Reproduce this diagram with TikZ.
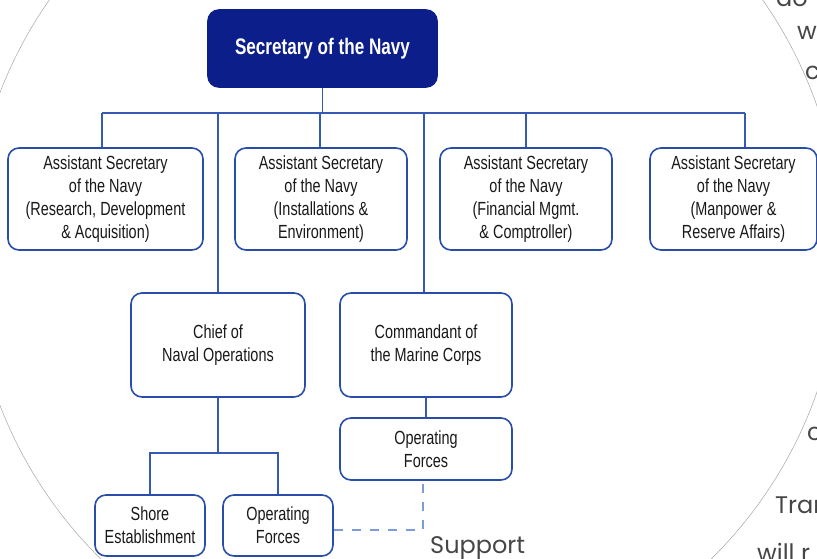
\documentclass[tikz,border=0pt]{standalone}
\usepackage{fontspec}
\setmainfont{Liberation Sans}
\newfontfamily\chartfont{Liberation Sans}[FakeStretch=0.76]
\newfontfamily\pagefont{Poppins}

\definecolor{navyfill}{RGB}{12,30,138}
\definecolor{boxline}{RGB}{40,78,170}
\definecolor{linkline}{RGB}{52,90,180}
\definecolor{supportline}{RGB}{125,155,215}
\definecolor{pagetext}{RGB}{70,70,70}
\definecolor{pagerule}{RGB}{165,165,165}

\begin{document}
\begin{tikzpicture}[
	x=1pt, y=-1pt,
	office/.style = {draw=boxline, line width=1.6pt, rounded corners=11pt, fill=white,
		inner sep=0pt, align=center, text=black!90,
		font=\chartfont\fontsize{19}{23}\selectfont},
	head/.style = {office, fill=navyfill, draw=navyfill, text=white,
		font=\chartfont\bfseries\fontsize{22.5}{26}\selectfont},
	edge/.style = {draw=linkline, line width=1.6pt},
	support/.style = {draw=supportline, line width=1.6pt, dash pattern=on 9pt off 9pt},
	page text/.style = {anchor=base west, inner sep=0pt, text=pagetext,
		font=\pagefont\fontsize{24}{24}\selectfont},
]

	\path [use as bounding box, clip] (0,0) rectangle (817,559);

	%% The page behind the chart: the ring and the running text
	\draw [pagerule, line width=0.5pt] (406,249) circle [radius=435pt];
	\node [page text] (frag-1) at (776,7) {do};
	\node [page text] (frag-2) at (797,40) {w};
	\node [page text] (frag-3) at (805,80) {c};
	\node [page text] (frag-4) at (807,440) {c};
	\node [page text] (frag-5) at (775,513) {Tran};
	\node [page text] (frag-6) at (757,561) {will r};

	%% The top of the chart
	\node [head, minimum width=229pt, minimum height=77pt] at (322.5,48.5) (secnav) {Secretary of the Navy};

	%% The assistant secretaries, left to right
	%% \cx = centre, \bw = box width, \tapx = where the bus drops down
	\foreach [count=\n] \cx/\bw/\tapx/\txt in {%
		105.5/195/102/{Assistant Secretary\\of the Navy\\(Research, Development\\\& Acquisition)},
		321/172/320/{Assistant Secretary\\of the Navy\\(Installations \&\\Environment)},
		526/172/526/{Assistant Secretary\\of the Navy\\(Financial Mgmt.\\\& Comptroller)},
		733.5/167/745/{Assistant Secretary\\of the Navy\\(Manpower \&\\Reserve Affairs)}%
	}{%
		\node [office, minimum width=\bw pt, minimum height=102pt] at (\cx,199) (asn-\n) {\txt};
		\coordinate (tap-\n) at (\tapx,113);
		\draw [edge] (tap-\n) -- (tap-\n |- asn-\n.north);
	}

	%% The bus under the secretary
	\draw [edge] (tap-1) -- (tap-4);
	\draw [edge] (secnav.south) -- (secnav.south |- tap-1);

	%% The two service chiefs hang off the same bus
	\node [office, minimum width=174pt, minimum height=104pt] at (218,345) (cno) {Chief of\\Naval Operations};
	\node [office, minimum width=172pt, minimum height=104pt] at (426,345) (cmc) {Commandant of\\the Marine Corps};
	\draw [edge] (cno.north |- tap-1) -- (cno);
	\draw [edge] ([xshift=-2pt]cmc.north |- tap-1) -- ([xshift=-2pt]cmc.north);

	%% Marine Corps side
	\node [office, minimum width=172pt, minimum height=62pt] at (426,449) (usmc-ops) {Operating\\Forces};
	\draw [edge] (cmc) -- (usmc-ops);

	%% Navy side
	\node [office, minimum width=110pt, minimum height=61pt] at (150,525.5) (shore) {Shore\\Establishment};
	\node [office, minimum width=110pt, minimum height=61pt] at (278,525.5) (navy-ops) {Operating\\Forces};
	\draw [edge] (cno.south) -- ++(0,55) coordinate (split);
	\draw [edge] (shore) |- (split) -| (navy-ops);

	%% Support link between the operating forces
	\coordinate (support-bend) at (423,530);
	\draw [support] (navy-ops.east |- support-bend) -- (support-bend) -- (support-bend |- usmc-ops.south);
	\node [page text] at (430,553) (support-label) {Support};

\end{tikzpicture}
\end{document}
